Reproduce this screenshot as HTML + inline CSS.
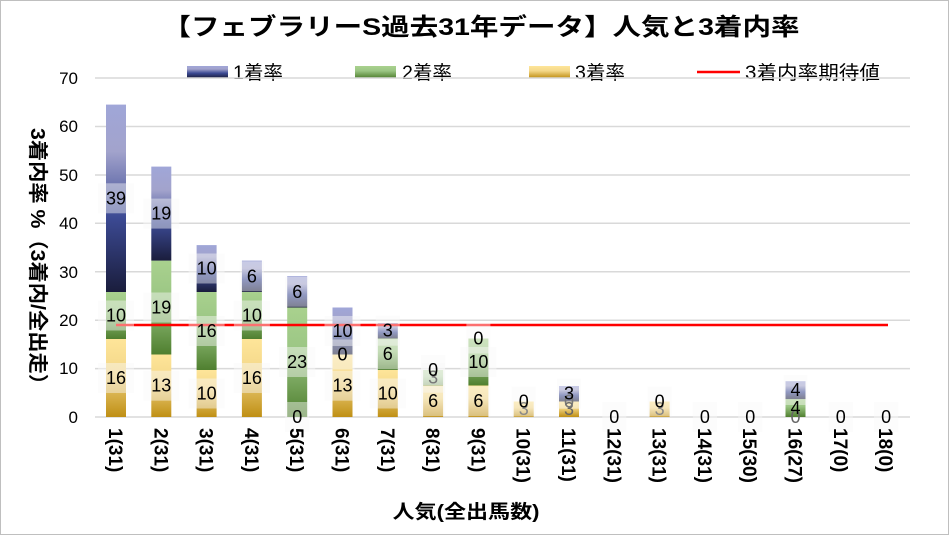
<!DOCTYPE html>
<html><head><meta charset="utf-8"><style>
html,body{margin:0;padding:0;background:#fff}
svg{display:block;font-family:"Liberation Sans","Noto Sans CJK JP",sans-serif}
</style></head><body>
<svg width="949" height="535" viewBox="0 0 949 535">
<defs>
<linearGradient id="g3" x1="0" y1="0" x2="0" y2="1"><stop offset="0" stop-color="#fee599"/><stop offset="0.4" stop-color="#f4d88a"/><stop offset="1" stop-color="#bf8f14"/></linearGradient>
<linearGradient id="g2" x1="0" y1="0" x2="0" y2="1"><stop offset="0" stop-color="#a9d18e"/><stop offset="0.4" stop-color="#9bc684"/><stop offset="1" stop-color="#4f7f2f"/></linearGradient>
<linearGradient id="g1" x1="0" y1="0" x2="0" y2="1"><stop offset="0" stop-color="#a0a6d8"/><stop offset="0.25" stop-color="#a2a3cc"/><stop offset="0.6" stop-color="#3c4a94"/><stop offset="1" stop-color="#1a1d3c"/></linearGradient>
</defs>
<rect x="0.5" y="0.5" width="948" height="534" fill="#fff" stroke="#bfbfbf"/>
<text x="481" y="35" font-size="24" font-weight="bold" text-anchor="middle" textLength="637" lengthAdjust="spacingAndGlyphs">【フェブラリーS過去31年データ】人気と3着内率</text>
<!-- legend -->
<rect x="187" y="66" width="41" height="12" fill="url(#g1)"/><text x="233" y="79" font-size="19" textLength="50" lengthAdjust="spacingAndGlyphs">1着率</text>
<rect x="355" y="66" width="41" height="12" fill="url(#g2)"/><text x="402" y="79" font-size="19" textLength="50" lengthAdjust="spacingAndGlyphs">2着率</text>
<rect x="529" y="66" width="41" height="12" fill="url(#g3)"/><text x="575" y="79" font-size="19" textLength="50" lengthAdjust="spacingAndGlyphs">3着率</text>
<line x1="697" y1="72" x2="740" y2="72" stroke="#f00" stroke-width="2.5"/><text x="745" y="79" font-size="19" textLength="135" lengthAdjust="spacingAndGlyphs">3着内率期待値</text>
<!-- grid -->
<g stroke="#d9d9d9" stroke-width="1.5">
<line x1="95" y1="78" x2="910" y2="78"/><line x1="95" y1="126.5" x2="910" y2="126.5"/><line x1="95" y1="175" x2="910" y2="175"/><line x1="95" y1="223.3" x2="910" y2="223.3"/><line x1="95" y1="271.7" x2="910" y2="271.7"/><line x1="95" y1="320.2" x2="910" y2="320.2"/><line x1="95" y1="368.6" x2="910" y2="368.6"/><line x1="95" y1="417" x2="910" y2="417"/>
</g>
<g font-size="17" text-anchor="end">
<text x="78" y="84">70</text><text x="78" y="132">60</text><text x="78" y="181">50</text><text x="78" y="229">40</text><text x="78" y="278">30</text><text x="78" y="326">20</text><text x="78" y="374">10</text><text x="78" y="423">0</text>
</g>
<text transform="translate(31,128) rotate(90)" font-size="20" font-weight="bold" textLength="267" lengthAdjust="spacingAndGlyphs">3着内率 %（3着内/全出走）</text>
<!-- bars -->
<g>
<rect x="106" y="339" width="20" height="78" fill="url(#g3)"/><rect x="106" y="292" width="20" height="47" fill="url(#g2)"/><rect x="106" y="104.6" width="20" height="187.4" fill="url(#g1)"/>
<rect x="151.3" y="354.5" width="20" height="62.5" fill="url(#g3)"/><rect x="151.3" y="260.6" width="20" height="93.9" fill="url(#g2)"/><rect x="151.3" y="166.6" width="20" height="94" fill="url(#g1)"/>
<rect x="196.6" y="370" width="20" height="47" fill="url(#g3)"/><rect x="196.6" y="292" width="20" height="78" fill="url(#g2)"/><rect x="196.6" y="245.1" width="20" height="46.9" fill="url(#g1)"/>
<rect x="241.9" y="339" width="20" height="78" fill="url(#g3)"/><rect x="241.9" y="292" width="20" height="47" fill="url(#g2)"/><rect x="241.9" y="260.6" width="20" height="31.4" fill="url(#g1)"/>
<rect x="287.2" y="307.5" width="20" height="109.5" fill="url(#g2)"/><rect x="287.2" y="276.1" width="20" height="31.4" fill="url(#g1)"/>
<rect x="332.5" y="354.5" width="20" height="62.5" fill="url(#g3)"/><rect x="332.5" y="307.5" width="20" height="47" fill="url(#g1)"/>
<rect x="377.8" y="370" width="20" height="47" fill="url(#g3)"/><rect x="377.8" y="338.5" width="20" height="31.5" fill="url(#g2)"/><rect x="377.8" y="323" width="20" height="15.5" fill="url(#g1)"/>
<rect x="423.1" y="385.5" width="20" height="31.5" fill="url(#g3)"/><rect x="423.1" y="370" width="20" height="15.5" fill="url(#g2)"/>
<rect x="468.4" y="385.5" width="20" height="31.5" fill="url(#g3)"/><rect x="468.4" y="338.5" width="20" height="47" fill="url(#g2)"/>
<rect x="513.7" y="401.5" width="20" height="15.5" fill="url(#g3)"/>
<rect x="559" y="401.5" width="20" height="15.5" fill="url(#g3)"/><rect x="559" y="386" width="20" height="15.5" fill="url(#g1)"/>
<rect x="649.6" y="401.5" width="20" height="15.5" fill="url(#g3)"/>
<rect x="785.5" y="399.1" width="20" height="17.9" fill="url(#g2)"/><rect x="785.5" y="381.2" width="20" height="17.9" fill="url(#g1)"/>
</g>
<line x1="116" y1="325" x2="888" y2="325" stroke="#f00" stroke-width="2.5"/>
<!-- labels -->
<g font-size="18" text-anchor="middle">
<g fill="#f8f8f8" fill-opacity="0.45">
<rect x="98" y="363" width="36" height="30"/><rect x="98" y="300.5" width="36" height="30"/><rect x="98" y="183.3" width="36" height="30"/>
<rect x="143.3" y="370.7" width="36" height="30"/><rect x="143.3" y="292.5" width="36" height="30"/><rect x="143.3" y="198.6" width="36" height="30"/>
<rect x="188.6" y="378.5" width="36" height="30"/><rect x="188.6" y="316" width="36" height="30"/><rect x="188.6" y="253.5" width="36" height="30"/>
<rect x="233.9" y="363" width="36" height="30"/><rect x="233.9" y="300.5" width="36" height="30"/><rect x="239.9" y="261.3" width="24" height="30"/>
<rect x="285.2" y="402" width="24" height="30"/><rect x="279.2" y="347" width="36" height="30"/><rect x="285.2" y="276.8" width="24" height="30"/>
<rect x="324.5" y="370.7" width="36" height="30"/><rect x="330.5" y="339.5" width="24" height="30"/><rect x="324.5" y="316" width="36" height="30"/>
<rect x="369.8" y="378.5" width="36" height="30"/><rect x="375.8" y="339.2" width="24" height="30"/><rect x="375.8" y="315.7" width="24" height="30"/>
<rect x="421.1" y="386.2" width="24" height="30"/><rect x="421.1" y="362.7" width="24" height="30"/><rect x="421.1" y="355" width="24" height="30"/>
<rect x="466.4" y="386.2" width="24" height="30"/><rect x="460.4" y="347" width="36" height="30"/><rect x="466.4" y="323.5" width="24" height="30"/>
<rect x="511.7" y="386.5" width="24" height="30"/><rect x="557" y="378.7" width="24" height="30"/>
<rect x="602.3" y="402" width="24" height="30"/><rect x="647.6" y="386.5" width="24" height="30"/>
<rect x="692.9" y="402" width="24" height="30"/><rect x="738.2" y="402" width="24" height="30"/>
<rect x="783.5" y="375" width="24" height="30"/><rect x="828.8" y="402" width="24" height="30"/><rect x="874.1" y="402" width="24" height="30"/>
</g>
<text x="116" y="384">16</text><text x="116" y="321.5">10</text><text x="116" y="204.3">39</text>
<text x="161.3" y="391.7">13</text><text x="161.3" y="313.5">19</text><text x="161.3" y="219.6">19</text>
<text x="206.6" y="399.5">10</text><text x="206.6" y="337">16</text><text x="206.6" y="274.5">10</text>
<text x="251.9" y="384">16</text><text x="251.9" y="321.5">10</text><text x="251.9" y="282.3">6</text>
<text x="297.2" y="423">0</text><text x="297.2" y="368">23</text><text x="297.2" y="297.8">6</text>
<text x="342.5" y="391.7">13</text><text x="342.5" y="360.5">0</text><text x="342.5" y="337">10</text>
<text x="387.8" y="399.5">10</text><text x="387.8" y="360.2">6</text><text x="387.8" y="336.7">3</text>
<text x="433.1" y="407.2">6</text><text x="433.1" y="383.7" fill="#777">3</text><text x="433.1" y="376">0</text>
<text x="478.4" y="407.2">6</text><text x="478.4" y="368">10</text><text x="478.4" y="344.5">0</text>
<text x="523.7" y="415" fill="#888">3</text><text x="523.7" y="407.5">0</text>
<text x="569" y="415" fill="#666">3</text><text x="569" y="407.5" fill="#777">0</text><text x="569" y="399.7">3</text>
<text x="614.3" y="423">0</text>
<text x="659.6" y="415" fill="#888">3</text><text x="659.6" y="407.5">0</text>
<text x="704.9" y="423">0</text><text x="750.2" y="423">0</text>
<text x="795.5" y="423" fill="#666">0</text><text x="795.5" y="414">4</text><text x="795.5" y="396">4</text>
<text x="840.8" y="423">0</text><text x="886.1" y="423">0</text>
</g>
<!-- x ticks -->
<g font-size="19" font-weight="bold">
<text transform="translate(116,428) rotate(90)" y="7">1(31)</text>
<text transform="translate(161.3,428) rotate(90)" y="7">2(31)</text>
<text transform="translate(206.6,428) rotate(90)" y="7">3(31)</text>
<text transform="translate(251.9,428) rotate(90)" y="7">4(31)</text>
<text transform="translate(297.2,428) rotate(90)" y="7">5(31)</text>
<text transform="translate(342.5,428) rotate(90)" y="7">6(31)</text>
<text transform="translate(387.8,428) rotate(90)" y="7">7(31)</text>
<text transform="translate(433.1,428) rotate(90)" y="7">8(31)</text>
<text transform="translate(478.4,428) rotate(90)" y="7">9(31)</text>
<text transform="translate(523.7,428) rotate(90)" y="7">10(31)</text>
<text transform="translate(569,428) rotate(90)" y="7">11(31)</text>
<text transform="translate(614.3,428) rotate(90)" y="7">12(31)</text>
<text transform="translate(659.6,428) rotate(90)" y="7">13(31)</text>
<text transform="translate(704.9,428) rotate(90)" y="7">14(31)</text>
<text transform="translate(750.2,428) rotate(90)" y="7">15(30)</text>
<text transform="translate(795.5,428) rotate(90)" y="7">16(27)</text>
<text transform="translate(840.8,428) rotate(90)" y="7">17(0)</text>
<text transform="translate(886.1,428) rotate(90)" y="7">18(0)</text>
</g>
<text x="466" y="518" font-size="19" font-weight="bold" text-anchor="middle" textLength="147" lengthAdjust="spacingAndGlyphs">人気(全出馬数)</text>
</svg>
</body></html>
